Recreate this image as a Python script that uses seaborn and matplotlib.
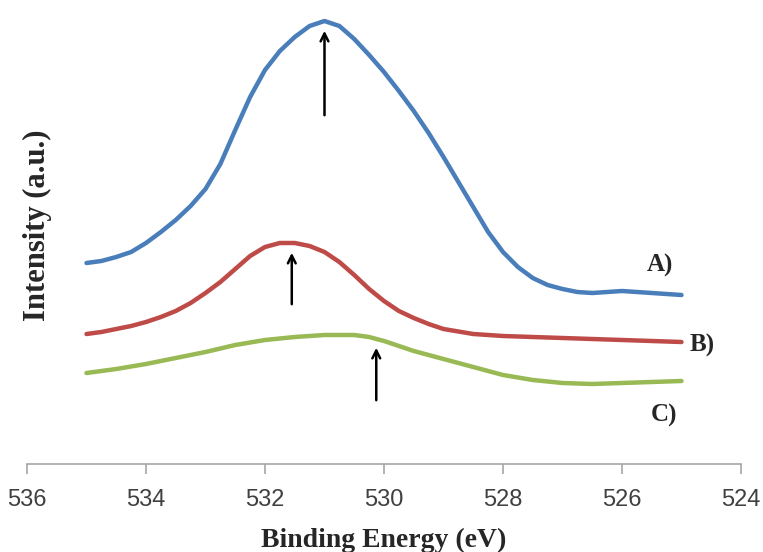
import numpy as np
import pandas as pd
import matplotlib
matplotlib.use("Agg")
import matplotlib.pyplot as plt
import seaborn as sns

# ---- data (binding energy in eV, intensity in arbitrary units) ----
energy_a = [535.0, 534.75, 534.5, 534.25, 534.0, 533.75, 533.5, 533.25, 533.0, 532.75,
            532.5, 532.25, 532.0, 531.75, 531.5, 531.25, 531.0, 530.75, 530.5, 530.25,
            530.0, 529.75, 529.5, 529.25, 529.0, 528.75, 528.5, 528.25, 528.0, 527.75,
            527.5, 527.25, 527.0, 526.75, 526.5, 526.0, 525.5, 525.0]
px_a = [263, 261, 257, 252, 243, 232, 220, 206, 189, 164,
        130, 97, 70, 51, 37, 26, 21, 26, 39, 55,
        72, 91, 111, 133, 157, 182, 207, 232, 252, 267,
        278, 285, 289, 292, 293, 291, 293, 295]
intensity_a = [464 - v for v in px_a]

energy_b = [535.0, 534.75, 534.5, 534.25, 534.0, 533.75, 533.5, 533.25, 533.0, 532.75,
            532.5, 532.25, 532.0, 531.75, 531.5, 531.25, 531.0, 530.75, 530.5, 530.25,
            530.0, 529.75, 529.5, 529.25, 529.0, 528.5, 528.0, 527.0, 526.0, 525.0]
px_b = [334, 332, 329, 326, 322, 317, 311, 303, 293, 282,
        269, 256, 247, 243, 243, 246, 252, 262, 275, 289,
        301, 311, 318, 324, 329, 334, 336, 338, 340, 342]
intensity_b = [464 - v for v in px_b]

energy_c = [535.0, 534.5, 534.0, 533.5, 533.0, 532.5, 532.0, 531.5, 531.0, 530.5,
            530.25, 530.0, 529.75, 529.5, 529.0, 528.5, 528.0, 527.5, 527.0, 526.5,
            526.0, 525.5, 525.0]
px_c = [373, 369, 364, 358, 352, 345, 340, 337, 335, 335,
        337, 341, 346, 351, 359, 367, 375, 380, 383, 384,
        383, 382, 381]
intensity_c = [464 - v for v in px_c]

series_labels = ["A)", "B)", "C)"]
peak_positions = [531.0, 531.55, 530.13]
x_ticks = [536, 534, 532, 530, 528, 526, 524]

# ---- build frame ----
df = pd.concat([
    pd.DataFrame({"energy": energy_a, "intensity": intensity_a, "series": "A)"}),
    pd.DataFrame({"energy": energy_b, "intensity": intensity_b, "series": "B)"}),
    pd.DataFrame({"energy": energy_c, "intensity": intensity_c, "series": "C)"}),
])

sns.set_style("white")
colors = {"A)": "#4a7ebb", "B)": "#be4b48", "C)": "#98b954"}

fig = plt.figure(figsize=(7.63, 5.52), dpi=100)
ax = fig.add_axes([27 / 763, 1 - 464 / 552, 714 / 763, 459 / 552])

sns.lineplot(data=df, x="energy", y="intensity", hue="series", palette=colors,
             linewidth=3.2, ax=ax, legend=False, sort=False)
for ln in ax.get_lines():
    ln.set_solid_capstyle("round")
    ln.set_solid_joinstyle("round")

ax.set_xlim(536, 524)
ax.set_ylim(0, 459)
ax.set_xticks(x_ticks)
ax.set_yticks([])

for s in ["top", "right", "left"]:
    ax.spines[s].set_visible(False)
ax.spines["bottom"].set_color("#a6a6a6")
ax.spines["bottom"].set_linewidth(1.2)
ax.tick_params(axis="x", bottom=True, direction="out", length=7, width=1.2,
               color="#a6a6a6", labelcolor="#404040", labelsize=17, pad=11)
for lab in ax.get_xticklabels():
    lab.set_family("Liberation Sans")

serif = ["Liberation Serif", "DejaVu Serif"]
ax.set_xlabel("Binding Energy (eV)", family=serif, fontweight="bold", fontsize=20)
ax.xaxis.set_label_coords(0.5, -0.14)
ax.set_ylabel("Intensity (a.u.)", family=serif, fontweight="bold", fontsize=22)
ax.yaxis.set_label_coords(0.035, 0.52)

# arrows marking peak positions
arrow_spans = [(346, 436), (157, 214), (61, 119)]
for xpos, (y0, y1) in zip(peak_positions, arrow_spans):
    ax.annotate("", xy=(xpos, y1), xytext=(xpos, y0),
                arrowprops=dict(arrowstyle="->", color="black", lw=1.8,
                                mutation_scale=14))

# series labels
label_pos = [(525.36, 199), (524.66, 119), (525.29, 49)]
for lab, (lx, ly) in zip(series_labels, label_pos):
    ax.text(lx, ly, lab, family=serif, fontweight="bold", fontsize=18,
            ha="center", va="center")

fig.savefig("out.png", dpi=100)
